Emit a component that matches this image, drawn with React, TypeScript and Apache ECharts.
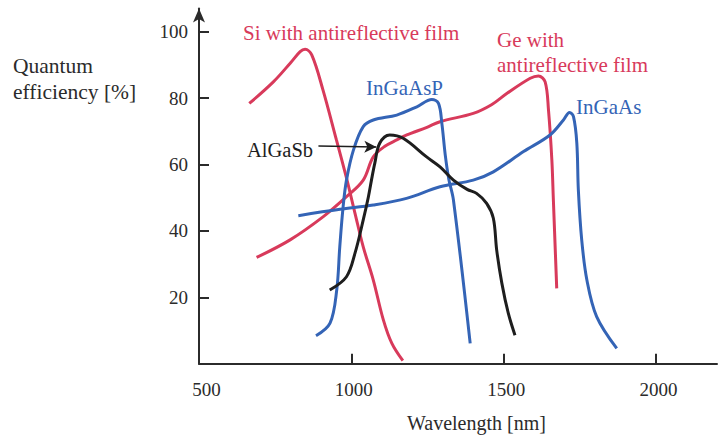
import React, { useEffect, useRef } from "react";
import * as echarts from "echarts";

// Wavelength ticks [nm] and quantum-efficiency ticks [%]
const xTicks = [500, 1000, 1500, 2000];
const yTicks = [20, 40, 60, 80, 100];

// Si with antireflective film
const siX = [665, 744, 800, 832, 848, 870, 907, 951, 984, 1001, 1012, 1039, 1072, 1105, 1133, 1169];
const siY = [78.4, 84.9, 90.6, 94.0, 94.7, 93.0, 82.4, 67.4, 56.0, 49.5, 45.3, 35.2, 25.2, 13.2, 6.1, 0.9];

// Ge with antireflective film
const geX = [689, 799, 908, 984, 1039, 1072, 1110, 1149, 1182, 1248, 1291, 1400, 1460, 1510, 1587, 1614, 1636, 1647, 1658, 1663, 1674];
const geY = [32.0, 37.3, 44.3, 50.3, 55.3, 62.3, 65.5, 67.4, 68.9, 71.2, 72.9, 75.4, 78.0, 81.4, 86.0, 86.7, 84.9, 76.4, 61.4, 49.3, 22.7];

// InGaAsP
const ingaaspX = [884, 930, 952, 962, 973, 984, 1007, 1039, 1072, 1149, 1215, 1264, 1286, 1297, 1308, 1320, 1335, 1390];
const ingaaspY = [8.4, 12.2, 22.2, 35.2, 47.3, 55.3, 64.4, 71.4, 73.4, 74.9, 77.4, 79.6, 78.4, 72.4, 63.0, 55.5, 49.3, 6.1];

// InGaAs
const ingaasX = [826, 963, 1072, 1181, 1291, 1400, 1466, 1565, 1652, 1696, 1716, 1729, 1740, 1745, 1756, 1773, 1805, 1871];
const ingaasY = [44.6, 46.5, 47.8, 49.8, 53.3, 55.3, 57.8, 63.9, 68.9, 73.4, 75.7, 74.4, 66.4, 52.3, 37.3, 25.2, 14.2, 4.6];

// AlGaSb
const algasbX = [929, 984, 1012, 1039, 1056, 1066, 1077, 1093, 1126, 1170, 1247, 1291, 1335, 1380, 1411, 1444, 1466, 1477, 1494, 1515, 1537];
const algasbY = [22.2, 26.2, 33.3, 43.3, 50.3, 55.3, 60.4, 66.4, 68.9, 67.9, 62.3, 59.3, 55.3, 52.5, 51.3, 48.3, 43.8, 34.2, 24.2, 15.2, 8.6];

// Pointer from the AlGaSb caption to its curve
const algasbPointer = [
  [892, 65.6],
  [1082, 65.3],
];

const RED = "#d83a5b";
const BLUE = "#3464b6";
const BLACK = "#1e1e1e";
const TEXT = "#2b2b2b";
const FONT = "'Liberation Serif', 'Times New Roman', serif";

const zip = (xs: number[], ys: number[]) => xs.map((x, i) => [x, ys[i]]);

const curve = (name: string, xs: number[], ys: number[], color: string, extra: any = {}) => ({
  name,
  type: "line",
  data: zip(xs, ys),
  showSymbol: false,
  smooth: 0.35,
  lineStyle: { color, width: 3 },
  itemStyle: { color },
  z: 3,
  ...extra,
});

const caption = (text: string, x: number, y: number, color: string, size = 21) => ({
  type: "text",
  x,
  y,
  style: {
    text,
    fill: color,
    font: `${size}px ${FONT}`,
    textVerticalAlign: "middle",
  },
});

export default function App() {
  const ref = useRef<HTMLDivElement>(null);

  useEffect(() => {
    if (!ref.current) return;
    document.body.style.margin = "0";
    const chart = echarts.init(ref.current, null, { renderer: "svg" });

    chart.setOption({
      animation: false,
      backgroundColor: "#ffffff",
      grid: { left: 199, right: 1, top: 8.5, bottom: 72.3, containLabel: false },
      xAxis: {
        type: "value",
        min: 500,
        max: 2200,
        interval: 500,
        splitLine: { show: false },
        axisLine: { lineStyle: { color: TEXT, width: 2 } },
        axisTick: {
          inside: true,
          length: 10,
          customValues: xTicks.slice(1),
          lineStyle: { color: TEXT, width: 2 },
        },
        axisLabel: {
          customValues: xTicks,
          margin: 16,
          color: TEXT,
          fontFamily: FONT,
          fontSize: 19,
          formatter: (v: number) => (v === 500 ? `{o|${v}}` : `{n|${v}}`),
          rich: {
            o: { fontFamily: FONT, fontSize: 19, color: TEXT, padding: [0, 0, 0, 15] },
            n: { fontFamily: FONT, fontSize: 19, color: TEXT, padding: [0, 0, 0, 5] },
          },
        },
      },
      yAxis: {
        type: "value",
        min: 0,
        max: 107,
        splitLine: { show: false },
        axisLine: {
          lineStyle: { color: TEXT, width: 2 },
          symbol: ["none", "arrow"],
          symbolSize: [9, 14],
        },
        axisTick: {
          inside: true,
          length: 10,
          customValues: yTicks,
          lineStyle: { color: TEXT, width: 2 },
        },
        axisLabel: {
          customValues: yTicks,
          margin: 11,
          color: TEXT,
          fontFamily: FONT,
          fontSize: 19,
        },
      },
      series: [
        curve("Si with antireflective film", siX, siY, RED),
        curve("Ge with antireflective film", geX, geY, RED),
        curve("InGaAsP", ingaaspX, ingaaspY, BLUE),
        curve("InGaAs", ingaasX, ingaasY, BLUE),
        curve("AlGaSb", algasbX, algasbY, BLACK, {
          z: 4,
          markLine: {
            silent: true,
            symbol: ["none", "arrow"],
            symbolSize: [9, 12],
            label: { show: false },
            lineStyle: { color: BLACK, width: 1.5, type: "solid" },
            data: [[{ coord: algasbPointer[0] }, { coord: algasbPointer[1] }]],
          },
        }),
      ],
      graphic: [
        caption("Quantum", 13, 66, TEXT, 21.5),
        caption("efficiency [%]", 13, 92, TEXT, 21.5),
        caption("Wavelength [nm]", 407, 423, TEXT, 20),
        caption("Si with antireflective film", 243, 33, RED),
        caption("Ge with", 497, 40, RED),
        caption("antireflective film", 497, 65, RED),
        caption("InGaAsP", 366, 88, BLUE),
        caption("InGaAs", 576, 107, BLUE),
        caption("AlGaSb", 247, 150, BLACK, 20.5),
      ],
    });

    return () => chart.dispose();
  }, []);

  return <div ref={ref} style={{ width: 718, height: 436 }} />;
}
